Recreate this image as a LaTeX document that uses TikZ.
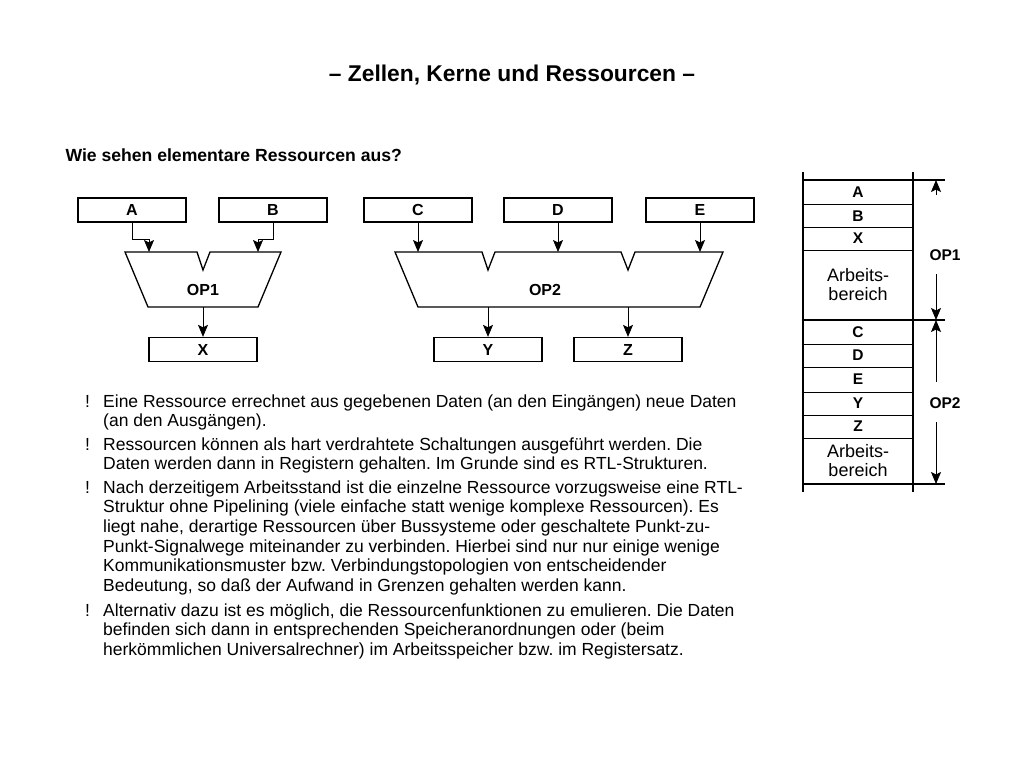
\documentclass[tikz,border=0pt]{standalone}
\usepackage{fontspec}
\setmainfont{Liberation Sans}
\usetikzlibrary{arrows.meta}
\frenchspacing
\tikzset{
  box/.style={draw,line width=1.3pt,minimum width=108pt,minimum height=24pt,inner sep=0pt,font=\fontsize{16}{16}\selectfont\bfseries},
  arr/.style={line width=0.8pt,-{Stealth[length=12pt,width=10pt,inset=2.5pt]}},
  opshape/.style={draw,line width=1.3pt},
  oplabel/.style={font=\fontsize{16}{16}\selectfont\bfseries},
  para/.style={anchor=north west,inner sep=0pt,align=left,font=\fontsize{17.5}{19.6}\selectfont},
  bang/.style={anchor=north west,inner sep=0pt,font=\fontsize{17.5}{19.6}\selectfont},
  cell/.style={font=\fontsize{15.5}{15.5}\selectfont\bfseries},
  celltxt/.style={align=center,font=\fontsize{18}{19}\selectfont},
  mline/.style={line width=1.3pt},
  dimarr/.style={line width=0.8pt,-{Stealth[length=12pt,width=10pt,inset=2.5pt]}}
}
\begin{document}
\begin{tikzpicture}[x=1pt,y=-1pt]
\useasboundingbox (0,0) rectangle (1024,768);
% title
\node[font=\fontsize{22.8}{22.8}\selectfont\bfseries] (title) at (512,75) {-- Zellen, Kerne und Ressourcen --};
\node[anchor=west,font=\fontsize{17.6}{17.6}\selectfont\bfseries] (sub) at (62,155) {Wie sehen elementare Ressourcen aus?};
% input boxes
\node[box] (A) at (132,210) {A};
\node[box] (B) at (273,210) {B};
\node[box] (C) at (418,210) {C};
\node[box] (D) at (558,210) {D};
\node[box] (E) at (700,210) {E};
% OP1 shape
\draw[opshape] (125,252) -- (197,252) -- (203,270) -- (210,252) -- (281,252) -- (258,307) -- (148,307) -- cycle;
\node[oplabel] (op1) at (203,290) {OP1};
\coordinate (op1a) at (149,252);
\coordinate (op1b) at (258,252);
\coordinate (op1o) at (203,307);
% OP2 shape
\draw[opshape] (395,252) -- (482,252) -- (488,270) -- (495,252) -- (621,252) -- (628,270) -- (635,252) -- (723,252) -- (700,307) -- (418,307) -- cycle;
\node[oplabel] (op2) at (545,290) {OP2};
\coordinate (op2c) at (418,252);
\coordinate (op2d) at (558,252);
\coordinate (op2e) at (700,252);
\coordinate (op2y) at (488,307);
\coordinate (op2z) at (628,307);
% output boxes
\node[box] (X) at (203,349.5) {X};
\node[box] (Y) at (488,349.5) {Y};
\node[box] (Z) at (628,349.5) {Z};
% connectors
\draw[arr] (A.south) -- ++(0,17) -| (op1a);
\draw[arr] (B.south) -- ++(0,17) -| (op1b);
\draw[arr] (C.south) -- (op2c);
\draw[arr] (D.south) -- (op2d);
\draw[arr] (E.south) -- (op2e);
\draw[arr] (op1o) -- (X.north);
\draw[arr] (op2y) -- (Y.north);
\draw[arr] (op2z) -- (Z.north);
% bullets
\node[bang] (b1) at (85,393.3) {\strut!};
\node[para] (p1) at (103,393.3) {\strut Eine Ressource errechnet aus gegebenen Daten (an den Eingängen) neue Daten\\(an den Ausgängen).};
\node[bang] (b2) at (85,436.3) {\strut!};
\node[para] (p2) at (103,436.3) {\strut Ressourcen können als hart verdrahtete Schaltungen ausgeführt werden. Die\\Daten werden dann in Registern gehalten. Im Grunde sind es RTL-Strukturen.};
\node[bang] (b3) at (85,479.3) {\strut!};
\node[para] (p3) at (103,479.3) {\strut Nach derzeitigem Arbeitsstand ist die einzelne Ressource vorzugsweise eine RTL-\\Struktur ohne Pipelining (viele einfache statt wenige komplexe Ressourcen). Es\\liegt nahe, derartige Ressourcen über Bussysteme oder geschaltete Punkt-zu-\\Punkt-Signalwege miteinander zu verbinden. Hierbei sind nur nur einige wenige\\Kommunikationsmuster bzw. Verbindungstopologien von entscheidender\\Bedeutung, so daß der Aufwand in Grenzen gehalten werden kann.};
\node[bang] (b4) at (85,602.3) {\strut!};
\node[para] (p4) at (103,602.3) {\strut Alternativ dazu ist es möglich, die Ressourcenfunktionen zu emulieren. Die Daten\\befinden sich dann in entsprechenden Speicheranordnungen oder (beim\\herkömmlichen Universalrechner) im Arbeitsspeicher bzw. im Registersatz.};
% memory column
\draw[mline] (803,172) -- (803,492);
\draw[mline] (913,172) -- (913,492);
\draw[mline] (803,180) -- (945,180);
\draw[line width=0.8pt] (803,204) -- (913,204);
\draw[line width=0.8pt] (803,227) -- (913,227);
\draw[line width=0.8pt] (803,250) -- (913,250);
\draw[mline] (803,320) -- (945,320);
\draw[line width=0.8pt] (803,344) -- (913,344);
\draw[line width=0.8pt] (803,367) -- (913,367);
\draw[line width=0.8pt] (803,392) -- (913,392);
\draw[line width=0.8pt] (803,415) -- (913,415);
\draw[line width=0.8pt] (803,438) -- (913,438);
\draw[mline] (803,484) -- (945,484);
\node[cell] (mA) at (858,192) {A};
\node[cell] (mB) at (858,216) {B};
\node[cell] (mX) at (858,238) {X};
\node[celltxt] (mW1) at (858,285) {Arbeits-\\bereich};
\node[cell] (mC) at (858,332) {C};
\node[cell] (mD) at (858,355) {D};
\node[cell] (mE) at (858,379) {E};
\node[cell] (mY) at (858,403) {Y};
\node[cell] (mZ) at (858,426) {Z};
\node[celltxt] (mW2) at (858,461) {Arbeits-\\bereich};
% dimension arrows
\node[cell] (dop1) at (945,255) {OP1};
\node[cell] (dop2) at (945,403) {OP2};
\coordinate (t1) at (936,180);
\coordinate (t2) at (936,320);
\coordinate (t3) at (936,484);
\draw[dimarr] (936,195) -- (t1);
\draw[dimarr] (936,274) -- (t2);
\draw[dimarr] (936,382) -- (t2);
\draw[dimarr] (936,422) -- (t3);
\end{tikzpicture}
\end{document}
